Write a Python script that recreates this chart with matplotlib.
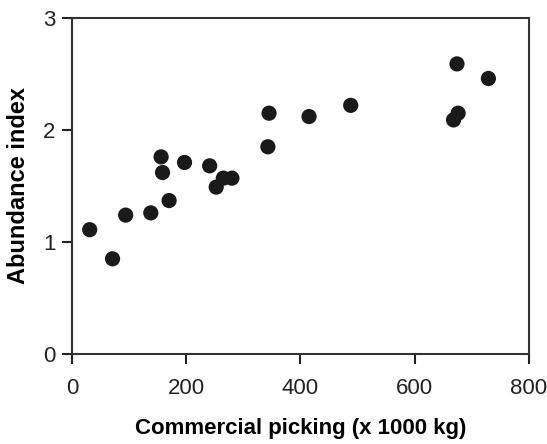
import matplotlib
matplotlib.use("Agg")
import matplotlib.pyplot as plt

picking = [31, 71, 94, 138, 156, 158.5, 170, 197, 241, 252.5, 265, 280,
           343, 345, 415, 488, 668, 676, 674, 729]
abundance = [1.11, 0.85, 1.24, 1.26, 1.76, 1.62, 1.37, 1.71, 1.68, 1.49, 1.57, 1.57,
             1.85, 2.15, 2.12, 2.22, 2.09, 2.15, 2.59, 2.46]
xticks = [0, 200, 400, 600, 800]
yticks = [0, 1, 2, 3]

plt.rcParams['font.family'] = ['Liberation Sans', 'DejaVu Sans']
fig = plt.figure(figsize=(5.47, 4.44), dpi=100)
ax = fig.add_axes([0.1316, 0.2027, 0.8354, 0.7568])
ax.scatter(picking, abundance, s=120, color='#1a1a1a', edgecolors='none', zorder=3)
ax.set_xlim(0, 800)
ax.set_ylim(0, 3)
ax.set_xticks(xticks)
ax.set_yticks(yticks)
ax.tick_params(direction='out', length=7, width=1.5, labelsize=16, colors='#222222', pad=5)
ax.tick_params(axis='x', pad=10)
for s in ax.spines.values():
    s.set_linewidth(1.5)
    s.set_color('#333333')
ax.set_xlabel('Commercial picking (x 1000 kg)', fontsize=16, fontweight='bold', labelpad=14)
ax.set_ylabel('Abundance index', fontsize=17, fontweight='bold', labelpad=9)
fig.savefig('out.png', dpi=100)
